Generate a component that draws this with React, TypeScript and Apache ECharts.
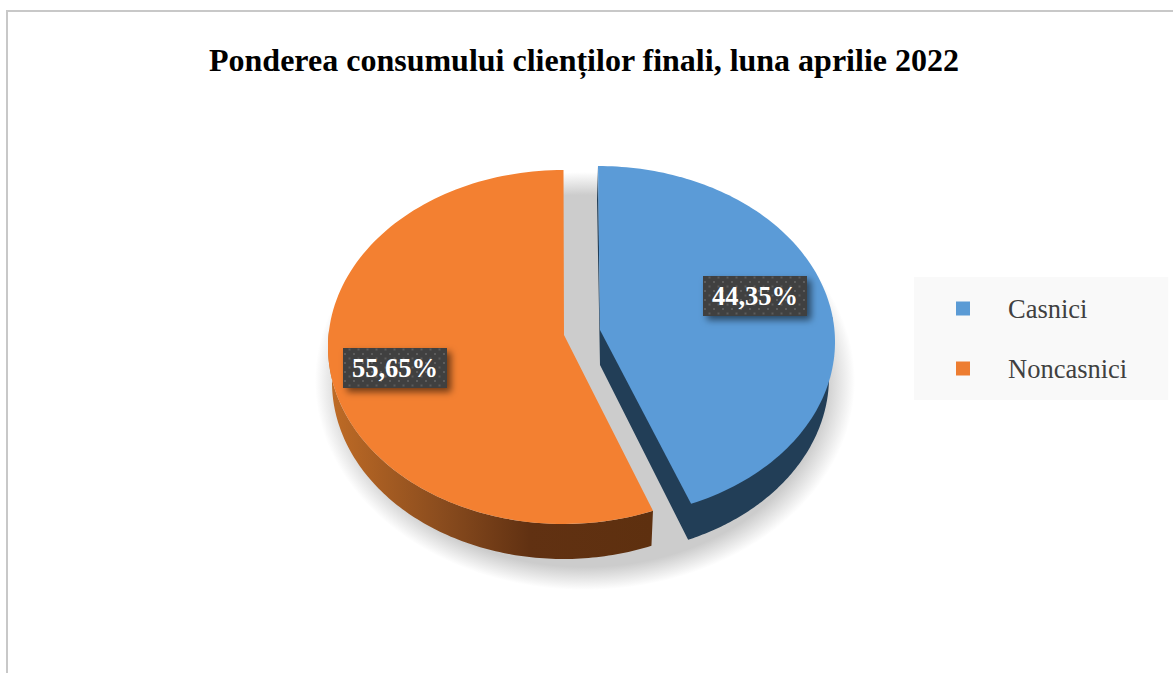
import React, { useEffect, useRef } from "react";
import * as echarts from "echarts";

const titleText = "Ponderea consumului clienților finali, luna aprilie 2022";
const categories = ["Casnici", "Noncasnici"];
const casniciValues = [44.35];
const noncasniciValues = [55.65];

const SERIF = '"Liberation Serif", "Times New Roman", serif';
const TO_RAD = Math.PI / 180;

function edgePoint(cx: number, cy: number, rx: number, ry: number, pct: number, warp: number) {
  const t = (pct / 100) * 360 * TO_RAD;
  const a = t - warp * Math.sin(t);
  return [cx + rx * Math.sin(a), cy - ry * Math.cos(a)];
}
function arc(cx: number, cy: number, rx: number, ry: number, from: number, to: number, warp: number) {
  const pts: number[][] = [];
  const n = 120;
  for (let i = 0; i <= n; i++) pts.push(edgePoint(cx, cy, rx, ry, from + ((to - from) * i) / n, warp));
  return pts;
}
function makeDots() {
  const c = document.createElement("canvas");
  c.width = 9;
  c.height = 9;
  const g = c.getContext("2d")!;
  g.fillStyle = "#404040";
  g.fillRect(0, 0, 9, 9);
  g.fillStyle = "#5c5c5c";
  g.fillRect(2, 2, 2, 2);
  g.fillRect(6.5, 6.5, 2, 2);
  return c;
}
function labelEls(value: number, x: number, y: number, dots: HTMLCanvasElement) {
  const text = value.toFixed(2).replace(".", ",") + "%";
  return [
    {
      type: "rect",
      shape: { x, y, width: 104, height: 40 },
      style: {
        fill: { image: dots, repeat: "repeat" },
        shadowBlur: 7,
        shadowOffsetX: 4,
        shadowOffsetY: 4,
        shadowColor: "rgba(0,0,0,0.55)",
      },
    },
    {
      type: "text",
      style: {
        text,
        x: x + 52,
        y: y + 20,
        align: "center",
        verticalAlign: "middle",
        fill: "#ffffff",
        font: `bold 26.5px ${SERIF}`,
      },
    },
  ];
}

export default function App() {
  const ref = useRef<HTMLDivElement>(null);
  useEffect(() => {
    const chart = echarts.init(ref.current!, undefined, { renderer: "svg" });
    const dots = makeDots();

    const renderCasnici = (_p: any, api: any) => {
      const v = api.value(0);
      const w = 0.14;
      const cx = 598, cy = 342, rx = 237, ry = 176;
      const bx = 597, by = 377, brx = 232, bry = 177;
      const apex = [600, 330];
      const apexB = [600, 365];
      const wall = [
        edgePoint(cx, cy, rx, ry, 0, w),
        edgePoint(bx, by, brx, bry, 0, w),
        apexB,
        ...arc(bx, by, brx, bry, v, 25, w),
        edgePoint(cx, cy, rx, ry, 25, w),
        apex,
      ];
      const top = [apex, ...arc(cx, cy, rx, ry, 0, v, w)];
      return {
        type: "group",
        children: [
          { type: "polygon", shape: { points: wall }, style: { fill: "#223e57" } },
          { type: "polygon", shape: { points: top }, style: { fill: "#5b9bd7" } },
          ...labelEls(v, 703, 276, dots),
        ],
      };
    };

    const renderNoncasnici = (_p: any, api: any) => {
      const v = api.value(0);
      const w = 0.1;
      const cx = 563.5, cy = 347, rx = 235.5, ry = 177;
      const bx = 563.5, by = 382, brx = 231.5, bry = 177;
      const apex = [564, 335];
      const start = 100 - v;
      const wall = [
        ...arc(cx, cy, rx, ry, start, 75, w),
        ...arc(bx, by, brx, bry, 75, start, w),
      ];
      const top = [apex, ...arc(cx, cy, rx, ry, start, 100, w)];
      return {
        type: "group",
        children: [
          {
            type: "ellipse",
            shape: { cx: 585, cy: 381, rx: 270, ry: 209 },
            style: {
              fill: {
                type: "radial",
                x: 0.5,
                y: 0.5,
                r: 0.5,
                colorStops: [
                  { offset: 0, color: "#cccccc" },
                  { offset: 0.89, color: "#cccccc" },
                  { offset: 1, color: "rgba(204,204,204,0)" },
                ],
              },
            },
          },
          {
            type: "polygon",
            shape: { points: wall },
            style: {
              fill: {
                type: "linear",
                x: 0,
                y: 0,
                x2: 1,
                y2: 0,
                colorStops: [
                  { offset: 0, color: "#c06c26" },
                  { offset: 0.35, color: "#8a4c1e" },
                  { offset: 0.62, color: "#613112" },
                  { offset: 1, color: "#5e300f" },
                ],
              },
            },
          },
          { type: "polygon", shape: { points: top }, style: { fill: "#f38031" } },
          ...labelEls(v, 343, 348, dots),
        ],
      };
    };

    chart.setOption({
      animation: false,
      backgroundColor: "#ffffff",
      title: {
        text: titleText,
        left: 209,
        top: 44,
        padding: 0,
        textStyle: { fontFamily: SERIF, fontWeight: "bold", fontSize: 32, color: "#000000" },
      },
      legend: {
        orient: "vertical",
        left: 914,
        top: 277,
        padding: [18, 41, 18, 42],
        itemGap: 33,
        itemWidth: 14,
        itemHeight: 14,
        icon: "rect",
        backgroundColor: "#f9f9f9",
        selectedMode: false,
        data: [
          { name: categories[0], itemStyle: { color: "#5b9bd5" } },
          { name: categories[1], itemStyle: { color: "#ed7d31" } },
        ],
        textStyle: { fontFamily: SERIF, fontSize: 26.5, color: "#404040", padding: [0, 0, 0, 33] },
      },
      graphic: [
        {
          type: "rect",
          silent: true,
          z: -10,
          shape: { x: 7, y: 11, width: 1400, height: 900 },
          style: { fill: "none", stroke: "#c8c8c8", lineWidth: 2 },
        },
      ],
      series: [
        {
          type: "custom",
          name: categories[1],
          coordinateSystem: "none",
          data: noncasniciValues,
          itemStyle: { color: "#ed7d31" },
          renderItem: renderNoncasnici,
          silent: true,
        },
        {
          type: "custom",
          name: categories[0],
          coordinateSystem: "none",
          data: casniciValues,
          itemStyle: { color: "#5b9bd5" },
          renderItem: renderCasnici,
          silent: true,
        },
      ],
    });
    return () => chart.dispose();
  }, []);
  return <div ref={ref} style={{ position: "fixed", left: 0, top: 0, width: 1173, height: 673 }} />;
}
